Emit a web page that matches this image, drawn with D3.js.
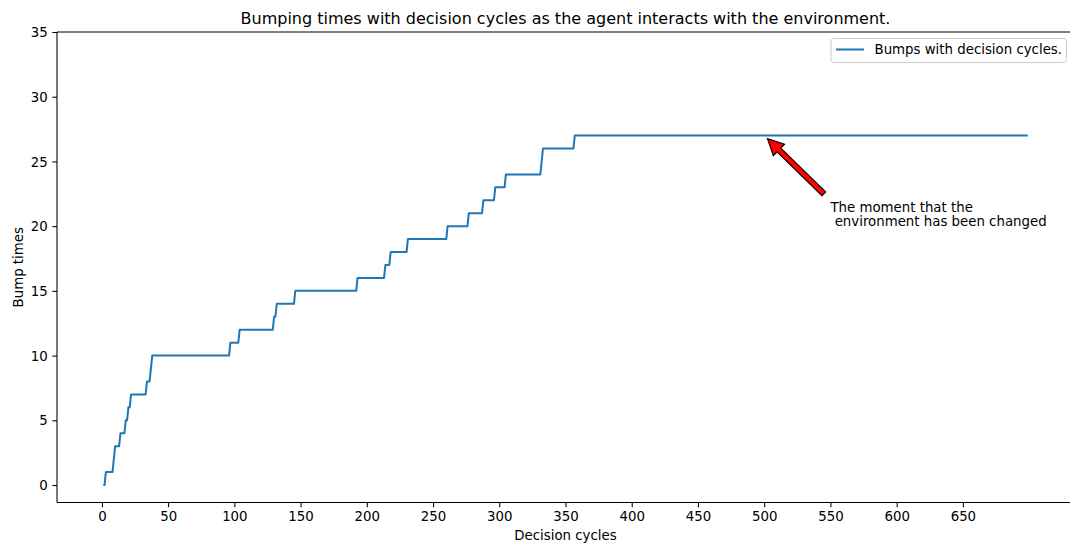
<!DOCTYPE html>
<html>
<head>
<meta charset="utf-8">
<script src="https://cdn.jsdelivr.net/npm/d3@7"></script>
<style>
  html, body { margin: 0; padding: 0; background: #fff; }
  svg { display: block; font-family: "DejaVu Sans", sans-serif; }
</style>
</head>
<body>
<svg id="chart" width="1070" height="547"></svg>
<script>
// ---- Data (breakpoints of the step-like series: decision cycle, bump count) ----
const cycles = [1, 2, 3, 8, 9, 10, 13, 14, 17, 18, 19, 20, 21, 22, 33, 34, 36, 37, 38,
  96, 97, 103, 104, 129, 130, 131, 132, 145, 146, 192, 193, 213, 214, 217, 218,
  230, 231, 260, 261, 276, 277, 287, 288, 296, 297, 304, 305, 331, 332, 333,
  356, 357, 699];
const bumps = [0, 0, 1, 1, 2, 3, 3, 4, 4, 5, 5, 6, 6, 7, 7, 8, 8, 9, 10,
  10, 11, 11, 12, 12, 13, 13, 14, 14, 15, 15, 16, 16, 17, 17, 18,
  18, 19, 19, 20, 20, 21, 21, 22, 22, 23, 23, 24, 24, 25, 26,
  26, 27, 27];
const xTicks = [0, 50, 100, 150, 200, 250, 300, 350, 400, 450, 500, 550, 600, 650];
const yTicks = [0, 5, 10, 15, 20, 25, 30, 35];
const titleText = "Bumping times with decision cycles as the agent interacts with the environment.";
const xLabel = "Decision cycles";
const yLabel = "Bump times";
const legendLabel = "Bumps with decision cycles.";
const annotXY = [500, 27];
const annotTextXY = [550, 22];
const annotLines = ["The moment that the", " environment has been changed"];

(function () {
// ---- Layout ----
const svg = d3.select("#chart");
const pL = 57, pR = 1074, pT = 32, pB = 502.5;
const x = d3.scaleLinear().domain([-33.9, 733.9]).range([pL, pR]);
const y = d3.scaleLinear().domain([-1.35, 35]).range([pB, pT]);
const FS = 13.33;

// Line
const pts = cycles.map((c, i) => [c, bumps[i]]);
svg.append("path")
  .datum(pts)
  .attr("fill", "none")
  .attr("stroke", "#1f77b4")
  .attr("stroke-width", 2)
  .attr("stroke-linejoin", "round")
  .attr("d", d3.line().x(d => x(d[0])).y(d => y(d[1])));

// Spines
svg.append("line").attr("x1", pL).attr("x2", pL).attr("y1", pT).attr("y2", pB)
  .attr("stroke", "#000").attr("stroke-width", 1.07);
svg.append("line").attr("x1", pL).attr("x2", pR).attr("y1", pT).attr("y2", pT)
  .attr("stroke", "#000").attr("stroke-width", 1.07);
svg.append("line").attr("x1", pL).attr("x2", pR).attr("y1", pB).attr("y2", pB)
  .attr("stroke", "#000").attr("stroke-width", 1.07);

// Axes
const xAxis = d3.axisBottom(x).tickValues(xTicks).tickSize(4.67).tickPadding(4.3).tickSizeOuter(0);
const gx = svg.append("g").attr("transform", `translate(0,${pB})`).call(xAxis);
gx.select(".domain").remove();
gx.selectAll("text").attr("font-size", FS).attr("font-family", "DejaVu Sans").attr("fill", "#000");
gx.selectAll("line").attr("stroke", "#000").attr("stroke-width", 1.07);

const yAxis = d3.axisLeft(y).tickValues(yTicks).tickSize(4.67).tickPadding(4.67).tickSizeOuter(0);
const gy = svg.append("g").attr("transform", `translate(${pL},0)`).call(yAxis);
gy.select(".domain").remove();
gy.selectAll("text").attr("font-size", FS).attr("font-family", "DejaVu Sans").attr("fill", "#000").attr("dy", "0.35em");
gy.selectAll("line").attr("stroke", "#000").attr("stroke-width", 1.07);

// Title and labels
svg.append("text").attr("x", (pL + pR) / 2).attr("y", 23.5)
  .attr("text-anchor", "middle").attr("font-size", 16).attr("fill", "#000").text(titleText);
svg.append("text").attr("x", (pL + pR) / 2).attr("y", 539.5)
  .attr("text-anchor", "middle").attr("font-size", FS).attr("fill", "#000").text(xLabel);
svg.append("text").attr("transform", `translate(22.5,${(pT + pB) / 2}) rotate(-90)`)
  .attr("text-anchor", "middle").attr("font-size", FS).attr("fill", "#000").text(yLabel);

// Legend
const lg = svg.append("g");
lg.append("rect").attr("x", 831).attr("y", 38.5).attr("width", 235.5).attr("height", 24)
  .attr("rx", 3).attr("fill", "#fff").attr("fill-opacity", 0.8)
  .attr("stroke", "#cccccc").attr("stroke-width", 1);
lg.append("line").attr("x1", 836).attr("x2", 864).attr("y1", 49.5).attr("y2", 49.5)
  .attr("stroke", "#1f77b4").attr("stroke-width", 2);
lg.append("text").attr("x", 874.5).attr("y", 54.3).attr("font-size", FS).attr("fill", "#000").text(legendLabel);

// Annotation arrow
const P = [x(annotXY[0]), y(annotXY[1])];
const T = [x(annotTextXY[0]), y(annotTextXY[1])];
const d = [T[0] - P[0], T[1] - P[1]];
const tip = [P[0] + 0.05 * d[0], P[1] + 0.05 * d[1]];
const tail = [T[0] - 0.1 * d[0], T[1] - 0.1 * d[1]];
const L = Math.hypot(tail[0] - tip[0], tail[1] - tip[1]);
const u = [(tip[0] - tail[0]) / L, (tip[1] - tail[1]) / L];
const n = [-u[1], u[0]];
const w = 2.67, hw = 8, hl = 16;
const hb = [tip[0] - u[0] * hl, tip[1] - u[1] * hl];
const poly = [
  [tail[0] + n[0] * w, tail[1] + n[1] * w],
  [hb[0] + n[0] * w, hb[1] + n[1] * w],
  [hb[0] + n[0] * hw, hb[1] + n[1] * hw],
  tip,
  [hb[0] - n[0] * hw, hb[1] - n[1] * hw],
  [hb[0] - n[0] * w, hb[1] - n[1] * w],
  [tail[0] - n[0] * w, tail[1] - n[1] * w]
];
svg.append("path").attr("d", "M" + poly.map(p => p.join(",")).join("L") + "Z")
  .attr("fill", "red").attr("stroke", "#000").attr("stroke-width", 1.2).attr("stroke-linejoin", "miter");

const at = svg.append("text").attr("font-size", FS).attr("fill", "#000").style("white-space", "pre");
annotLines.forEach((s, i) => {
  at.append("tspan").attr("x", T[0]).attr("y", 211.5 + i * 14.8).text(s);
});
})();
</script>
</body>
</html>
